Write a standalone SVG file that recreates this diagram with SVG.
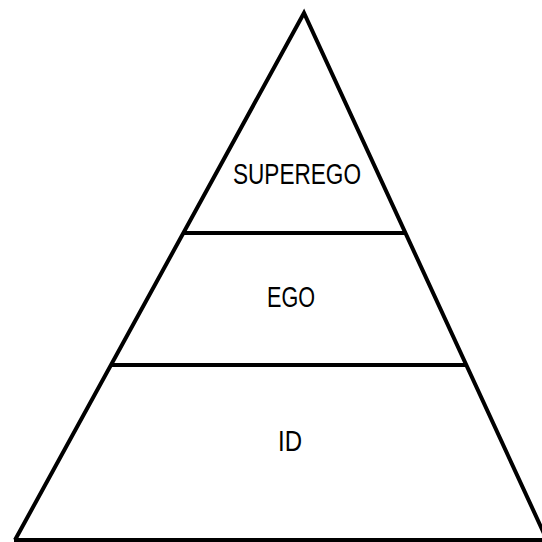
<svg xmlns="http://www.w3.org/2000/svg" width="542" height="542" viewBox="0 0 542 542">
<style>
.edge{stroke:#000;stroke-width:4;fill:none;stroke-linejoin:miter}
.lbl{font-family:"Liberation Sans",Arial,sans-serif;font-size:30px;fill:#000;text-anchor:middle}
</style>
<rect width="542" height="542" fill="#fff"/>
<g id="connectors">
<polyline class="edge" points="15,540 304,13 547,540"/>
<line class="edge" x1="14" y1="540" x2="548" y2="540" stroke-width="3"/>
<line class="edge" x1="184" y1="233" x2="405" y2="233"/>
<line class="edge" x1="111" y1="365" x2="467" y2="365"/>
</g>
<g id="superego"><text class="lbl" x="297" y="184" textLength="128" lengthAdjust="spacingAndGlyphs">SUPEREGO</text></g>
<g id="ego"><text class="lbl" x="291" y="307" textLength="48" lengthAdjust="spacingAndGlyphs">EGO</text></g>
<g id="id"><text class="lbl" x="290" y="451" font-size="34" textLength="24" lengthAdjust="spacingAndGlyphs">ID</text></g>
</svg>
